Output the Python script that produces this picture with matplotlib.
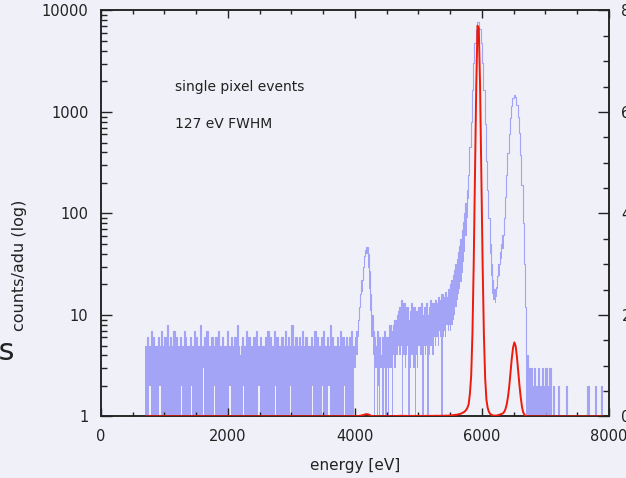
import numpy as np
import matplotlib
matplotlib.use('Agg')
import matplotlib.pyplot as plt
from matplotlib import ticker

# single pixel spectrum, 20 eV bins from 700 eV
bin_start = 700
bin_width = 20

# highest count seen in each bin
counts = [
    5, 6, 5, 5, 7, 5, 6, 5, 5, 4, 6, 5, 7, 5, 5, 6, 5, 8, 5, 6,
    5, 5, 7, 5, 6, 4, 5, 6, 5, 5, 7, 6, 5, 5, 4, 6, 5, 5, 7, 5,
    6, 5, 5, 8, 5, 5, 6, 5, 7, 5, 4, 5, 6, 5, 5, 6, 5, 7, 5, 5,
    6, 5, 4, 5, 7, 5, 5, 6, 5, 5, 6, 5, 8, 5, 4, 5, 6, 5, 5, 7,
    5, 6, 5, 5, 4, 6, 5, 7, 5, 5, 6, 5, 5, 4, 6, 5, 7, 5, 6, 5,
    5, 7, 5, 6, 5, 4, 5, 6, 5, 5, 7, 5, 6, 5, 5, 8, 5, 5, 6, 4,
    5, 6, 5, 7, 5, 5, 6, 5, 4, 5, 6, 5, 5, 7, 5, 6, 5, 5, 6, 5,
    7, 5, 5, 6, 5, 8, 5, 6, 5, 5, 4, 6, 5, 7, 5, 6, 5, 5, 6, 5,
    6, 5, 7, 5, 5, 6, 7, 9, 12, 16, 22, 30, 38, 44, 47, 40, 27, 16, 10, 7,
    6, 5, 7, 5, 6, 4, 6, 5, 7, 6, 5, 6, 8, 6, 7, 8, 9, 8, 10, 11,
    12, 14, 11, 13, 12, 10, 12, 9, 11, 13, 10, 12, 9, 11, 10, 12, 11, 13, 10, 12,
    11, 13, 10, 12, 14, 11, 13, 12, 14, 13, 15, 12, 14, 16, 13, 15, 17, 15, 18, 17,
    20, 22, 25, 28, 32, 36, 42, 48, 56, 68, 82, 100, 128, 170, 240, 450, 800, 1630, 3020, 4790,
    6520, 7700, 7650, 6520, 4790, 3020, 1630, 760, 330, 170, 90, 50, 32, 22, 18, 17, 19, 24, 32, 42,
    50, 62, 90, 145, 240, 390, 600, 880, 1150, 1360, 1460, 1390, 1180, 900, 620, 380, 190, 80, 32, 12,
    4, 3, 2, 3, 2, 2, 3, 2, 2, 3, 2, 2, 3, 2, 0, 3, 2, 0, 3, 0,
    0, 2, 0, 0, 0, 2, 0, 0, 0, 0, 0, 2, 0, 0, 0, 0, 0, 0, 0, 0,
    0, 0, 0, 0, 0, 0, 0, 0, 2, 0, 0, 0, 0, 0, 2, 0, 0, 0, 0, 2,
]

# lowest count seen in each bin
floor = [
    0, 0, 0, 2, 0, 0, 0, 0, 0, 0, 0, 2, 0, 0, 0, 0, 0, 0, 0, 0,
    0, 0, 0, 0, 0, 0, 0, 0, 2, 0, 0, 0, 0, 0, 0, 0, 2, 0, 0, 0,
    0, 0, 0, 0, 0, 3, 0, 0, 0, 0, 0, 0, 0, 0, 2, 0, 0, 0, 0, 0,
    0, 0, 0, 0, 0, 0, 2, 0, 0, 0, 0, 0, 0, 0, 0, 0, 0, 2, 0, 0,
    0, 0, 0, 0, 0, 0, 0, 0, 0, 2, 0, 0, 0, 0, 0, 0, 0, 0, 0, 0,
    0, 0, 2, 0, 0, 0, 0, 0, 0, 0, 0, 0, 0, 0, 2, 0, 0, 0, 0, 0,
    0, 0, 0, 0, 0, 0, 0, 0, 0, 0, 0, 2, 0, 0, 0, 0, 0, 0, 0, 2,
    0, 0, 0, 0, 2, 0, 0, 0, 0, 0, 0, 0, 0, 0, 0, 0, 2, 0, 0, 0,
    0, 0, 0, 0, 3, 3, 4, 6, 9, 12, 17, 24, 31, 37, 40, 29, 18, 11, 6, 4,
    0, 3, 0, 2, 0, 3, 0, 0, 3, 0, 3, 0, 3, 3, 0, 4, 3, 4, 4, 5,
    4, 5, 0, 4, 3, 4, 5, 0, 3, 4, 4, 3, 0, 4, 3, 5, 4, 4, 0, 5,
    4, 5, 0, 4, 5, 5, 4, 6, 5, 6, 5, 7, 6, 0, 6, 7, 6, 8, 7, 8,
    7, 8, 9, 10, 12, 14, 16, 18, 21, 26, 33, 42, 60, 90, 140, 450, 800, 1630, 3020, 4790,
    6520, 7700, 7650, 6520, 4790, 3020, 1630, 760, 330, 170, 90, 40, 24, 16, 14, 13, 15, 18, 24, 32,
    36, 45, 90, 145, 240, 390, 600, 880, 1150, 1360, 1460, 1390, 1180, 900, 620, 380, 190, 80, 32, 12,
    0, 0, 0, 0, 0, 0, 0, 0, 0, 0, 0, 0, 0, 0, 0, 0, 0, 0, 0, 0,
    0, 0, 0, 0, 0, 0, 0, 0, 0, 0, 0, 0, 0, 0, 0, 0, 0, 0, 0, 0,
    0, 0, 0, 0, 0, 0, 0, 0, 0, 0, 0, 0, 0, 0, 0, 0, 0, 0, 0, 0,
]

notes = ["single pixel events", "127 eV FWHM"]

bg = '#f0f0f8'
blue = '#a4a4f6'
red = '#ee1a0a'
ink = '#222222'

cnt = np.array(counts, dtype=float)
flo = np.array(floor, dtype=float)
energy = bin_start + bin_width / 2 + bin_width * np.arange(len(cnt))

fig = plt.figure(figsize=(6.26, 4.78), dpi=100, facecolor=bg)
ax = fig.add_axes([0.1613, 0.1287, 0.8115, 0.8494])
ax.set_facecolor(bg)

# noisy parts of the histogram fill down to the lowest count of the bin
noisy = flo < cnt
ax.bar(energy[noisy], cnt[noisy] - flo[noisy], bottom=flo[noisy], width=bin_width,
       color=blue, linewidth=0)
ax.plot(energy, cnt, drawstyle='steps-mid', color=blue, lw=0.8)

ax.set_yscale('log')
ax.set_xlim(0, 8000)
ax.set_ylim(1, 10000)
ax.xaxis.set_major_locator(ticker.MultipleLocator(2000))
ax.xaxis.set_minor_locator(ticker.MultipleLocator(500))
ax.yaxis.set_major_locator(ticker.LogLocator(base=10))
ax.yaxis.set_minor_locator(ticker.LogLocator(base=10, subs=np.arange(2, 10)))
ax.yaxis.set_major_formatter(ticker.FuncFormatter(lambda v, p: f'{v:g}'))
ax.yaxis.set_minor_formatter(ticker.NullFormatter())

ax.tick_params(which='both', direction='in', top=True, right=False,
               colors=ink, labelsize=10.5, width=1.0)
ax.tick_params(axis='y', which='major', length=8, pad=9)
ax.tick_params(axis='y', which='minor', length=4)
ax.tick_params(axis='x', which='major', length=5.5, pad=9)
ax.tick_params(axis='x', which='minor', length=3)
for s in ax.spines.values():
    s.set_color(ink)
    s.set_linewidth(1.1)

ax.set_xlabel('energy [eV]', fontsize=11, color=ink, labelpad=10)
ax.set_ylabel('counts/adu (log)', fontsize=11.5, color=ink)
ax.yaxis.set_label_coords(-0.145, 0.373)

ax.text(1166, 1750, notes[0], fontsize=10, color=ink, va='center')
ax.text(1166, 754, notes[1], fontsize=10, color=ink, va='center')

# same spectrum on a linear scale (thousands of counts)
ax2 = ax.twinx()
ax2.plot(energy, cnt / 1000, color=red, lw=1.4, zorder=5)
ax2.set_ylim(0, 8)
ax2.yaxis.set_major_locator(ticker.MultipleLocator(2))
ax2.yaxis.set_minor_locator(ticker.MultipleLocator(0.5))
ax2.tick_params(which='both', direction='in', colors=ink, labelsize=10.5, width=1.0)
ax2.tick_params(which='major', length=8, pad=9)
ax2.tick_params(which='minor', length=4)
for s in ax2.spines.values():
    s.set_color(ink)
    s.set_linewidth(1.1)

# edge of the neighbouring panel's label
fig.text(15 / 626, 1 - 351 / 478, 'rs', fontsize=22, color=ink,
         ha='right', va='center')

fig.savefig('out.png', dpi=100, facecolor=bg)
